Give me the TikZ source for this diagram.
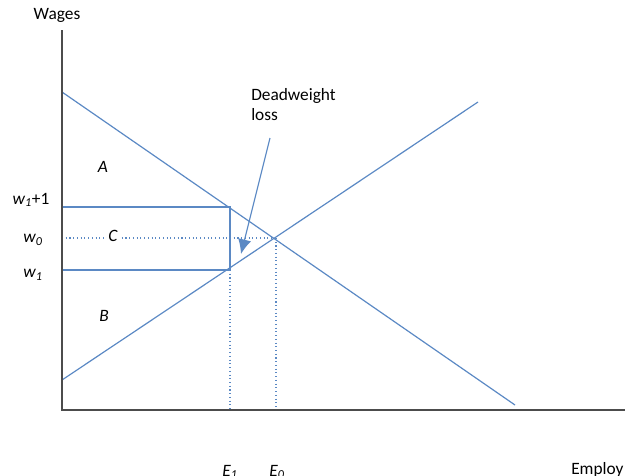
\documentclass[tikz,border=0pt]{standalone}
\usepackage{fontspec}
\setmainfont{Carlito}
\usetikzlibrary{arrows.meta}
\definecolor{lc}{RGB}{91,137,196}
\begin{document}
\begin{tikzpicture}[x=0.75pt,y=-0.75pt,font=\fontsize{13}{15}\selectfont,
  ln/.style={draw=lc, line width=0.9pt},
  dt/.style={ln, line width=0.8pt, dotted},
  ax/.style={draw=black!70, line width=1.4pt},
  lab/.style={inner sep=0pt}]
\useasboundingbox (0,0) rectangle (642,475);
\coordinate (O) at (62,410);
\coordinate (ytop) at (62,30);
\coordinate (xend) at (625,410);
\coordinate (d1) at (62,92); \coordinate (d2) at (515,405);
\coordinate (s1) at (62,380); \coordinate (s2) at (478,102);
\coordinate (eq) at (276,238);
\coordinate (r1) at (62,207); \coordinate (r2) at (230,270);
\coordinate (r3) at (230,207); \coordinate (r4) at (62,270);
\coordinate (w0l) at (62,238);
\coordinate (e1) at (230,410); \coordinate (e0) at (276,410);
\draw[ln] (d1) -- (d2);
\draw[ln] (s1) -- (s2);
\draw[ln] (r1) -- (r3) -- (r2) -- (r4);
\draw[dt] (w0l) -- (eq);
\draw[dt] (r2) -- (e1);
\draw[dt] (eq) -- (e0);
\draw[ax] (ytop) -- (O) -- (xend);
\node[lab] (wages) at (57,15) {Wages};
\node[lab] (wp) at (31,200) {\itshape w\textsubscript{1}\upshape+1};
\node[lab] (w0) at (33,240) {\itshape w\textsubscript{0}};
\node[lab] (w1) at (33,275) {\itshape w\textsubscript{1}};
\node[lab] (A) at (103,167) {\itshape A};
\node[lab,fill=white,inner sep=1pt] (C) at (113,236) {\itshape C};
\node[lab] (B) at (104,316) {\itshape B};
\node[lab,anchor=north] (E1) at (230,465) {\itshape E\textsubscript{1}};
\node[lab,anchor=north] (E0) at (277,465) {\itshape E\textsubscript{0}};
\node[lab,anchor=north west] (emp) at (571,462) {Employ};
\node[lab,align=left,anchor=north west] (dw) at (251,88) {Deadweight\\loss};
\coordinate (atip) at (241,254);
\draw[ln,-{Latex[length=11pt,width=10pt]}] (270,138) -- (atip);
\end{tikzpicture}
\end{document}
